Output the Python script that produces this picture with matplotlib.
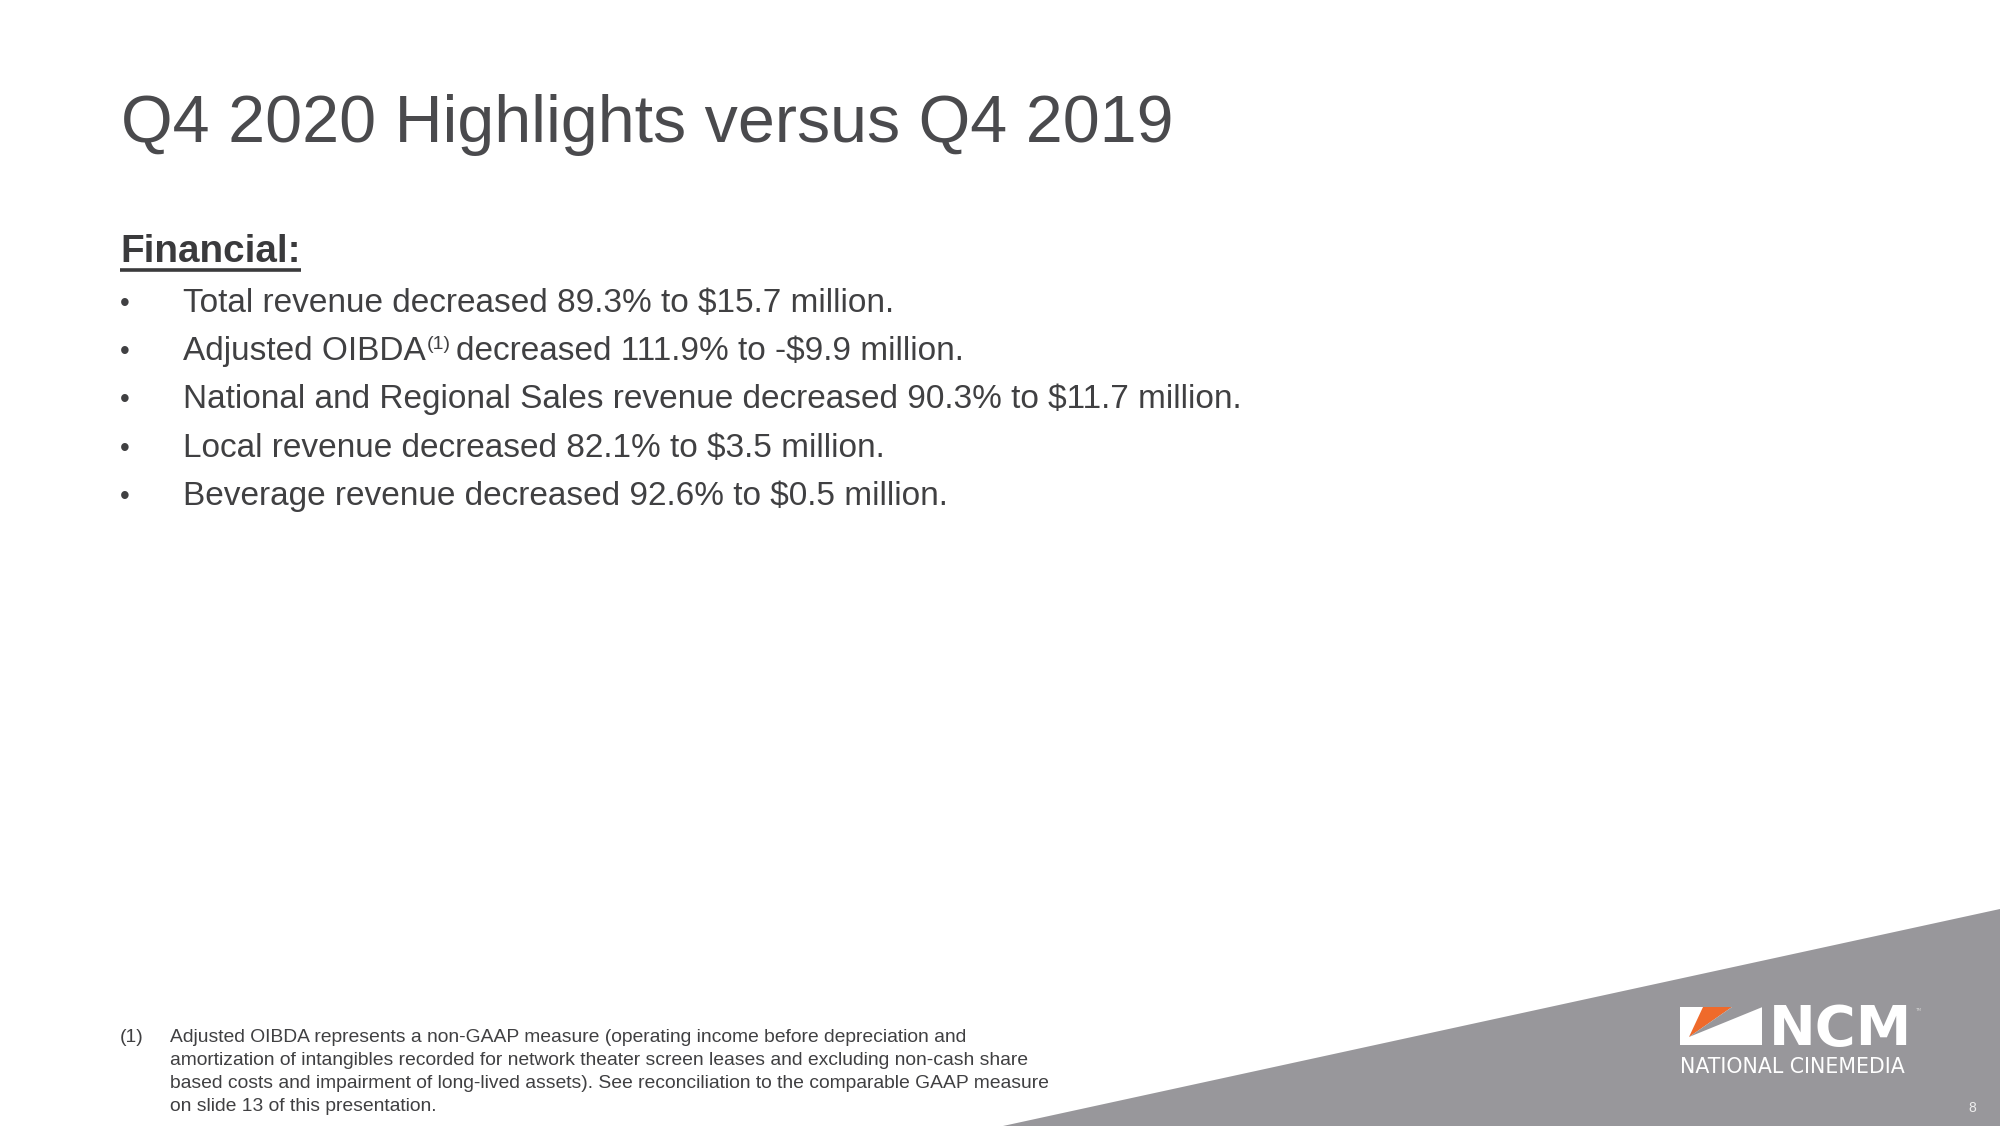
import matplotlib
matplotlib.use("Agg")
import matplotlib.pyplot as plt
from matplotlib.patches import Polygon, Rectangle

# slide content
title = "Q4 2020 Highlights versus Q4 2019"
heading = "Financial:"
bullets = [
    "Total revenue decreased 89.3% to $15.7 million.",
    "Adjusted OIBDA",
    "National and Regional Sales revenue decreased 90.3% to $11.7 million.",
    "Local revenue decreased 82.1% to $3.5 million.",
    "Beverage revenue decreased 92.6% to $0.5 million.",
]
oibda_note = "(1)"
oibda_rest = "decreased 111.9% to -$9.9 million."
footnote_mark = "(1)"
footnote_lines = [
    "Adjusted OIBDA represents a non-GAAP measure (operating income before depreciation and",
    "amortization of intangibles recorded for network theater screen leases and excluding non-cash share",
    "based costs and impairment of long-lived assets). See reconciliation to the comparable GAAP measure",
    "on slide 13 of this presentation.",
]
logo_big = "NCM"
logo_small = "NATIONAL CINEMEDIA"
page_no = "8"

W, H = 2000, 1126
TEXT = "#404042"
GREY_BAND = "#98979b"
ORANGE = "#ef6a2b"
FONT = "Liberation Sans"

fig = plt.figure(figsize=(W / 100, H / 100), dpi=100)
ax = fig.add_axes([0, 0, 1, 1])
ax.set_xlim(0, W)
ax.set_ylim(H, 0)
ax.axis("off")

# title
ax.text(121, 142, title, fontsize=47.8, family=FONT, color="#4a4a4d",
        va="baseline", ha="left")

# heading with underline
ax.text(120, 262, heading, fontsize=27.8, family=FONT, weight="bold",
        color="#3a3a3c", va="baseline", ha="left")
ax.plot([120, 301], [270, 270], color="#3a3a3c", lw=2.6, solid_capstyle="butt")

# bullet list
y0, step = 312, 48.2
for i, line in enumerate(bullets):
    y = y0 + i * step
    ax.text(125, y - 1, "\u2022", fontsize=20, family=FONT, color=TEXT,
            va="baseline", ha="center")
    t = ax.text(183, y, line, fontsize=24, family=FONT, color=TEXT,
                va="baseline", ha="left", parse_math=False)
    if i == 1:
        r = fig.canvas.get_renderer()
        x1 = t.get_window_extent(r).x1
        s = ax.text(x1 + 1, y - 11, oibda_note, fontsize=14, family=FONT,
                    color=TEXT, va="baseline", ha="left")
        x2 = s.get_window_extent(r).x1
        ax.text(x2 + 5, y, oibda_rest, fontsize=24, family=FONT, color=TEXT,
                va="baseline", ha="left", parse_math=False)

# grey corner band
ax.add_patch(Polygon([(W, 909), (1003, H), (W, H)], closed=True,
                     facecolor=GREY_BAND, edgecolor="none"))

# footnote
fy0, fstep = 1042, 23
ax.text(120, fy0, footnote_mark, fontsize=13.9, family=FONT, color=TEXT,
        va="baseline", ha="left")
for i, line in enumerate(footnote_lines):
    ax.text(170, fy0 + i * fstep, line, fontsize=13.9, family=FONT,
            color=TEXT, va="baseline", ha="left")

# NCM logo mark
bx0, by0, bx1, by1 = 1680, 1007, 1762, 1045
ax.add_patch(Rectangle((bx0, by0), bx1 - bx0, by1 - by0,
                       facecolor="white", edgecolor="none"))
ax.add_patch(Polygon([(1703, by0), (1732, by0), (1689, 1037)], closed=True,
                     facecolor=ORANGE, edgecolor="none"))
ax.add_patch(Polygon([(1732, by0), (bx1 + 0.5, by0), (1689, 1037)], closed=True,
                     facecolor=GREY_BAND, edgecolor="none"))
ax.text(1769, 1045, logo_big, fontsize=40.2, family="DejaVu Sans",
        weight="bold", color="white", va="baseline", ha="left")
ax.text(1915, 1011, "TM", fontsize=3, family="DejaVu Sans", color="#d8d8d8",
        va="baseline", ha="left")
ax.text(1680, 1073, logo_small, fontsize=14.8, family="DejaVu Sans",
        color="white", va="baseline", ha="left")

ax.text(1972, 1112, page_no, fontsize=10, family=FONT, color="#eeeeee",
        va="baseline", ha="center")

fig.savefig("out.png", dpi=100, facecolor="white")
